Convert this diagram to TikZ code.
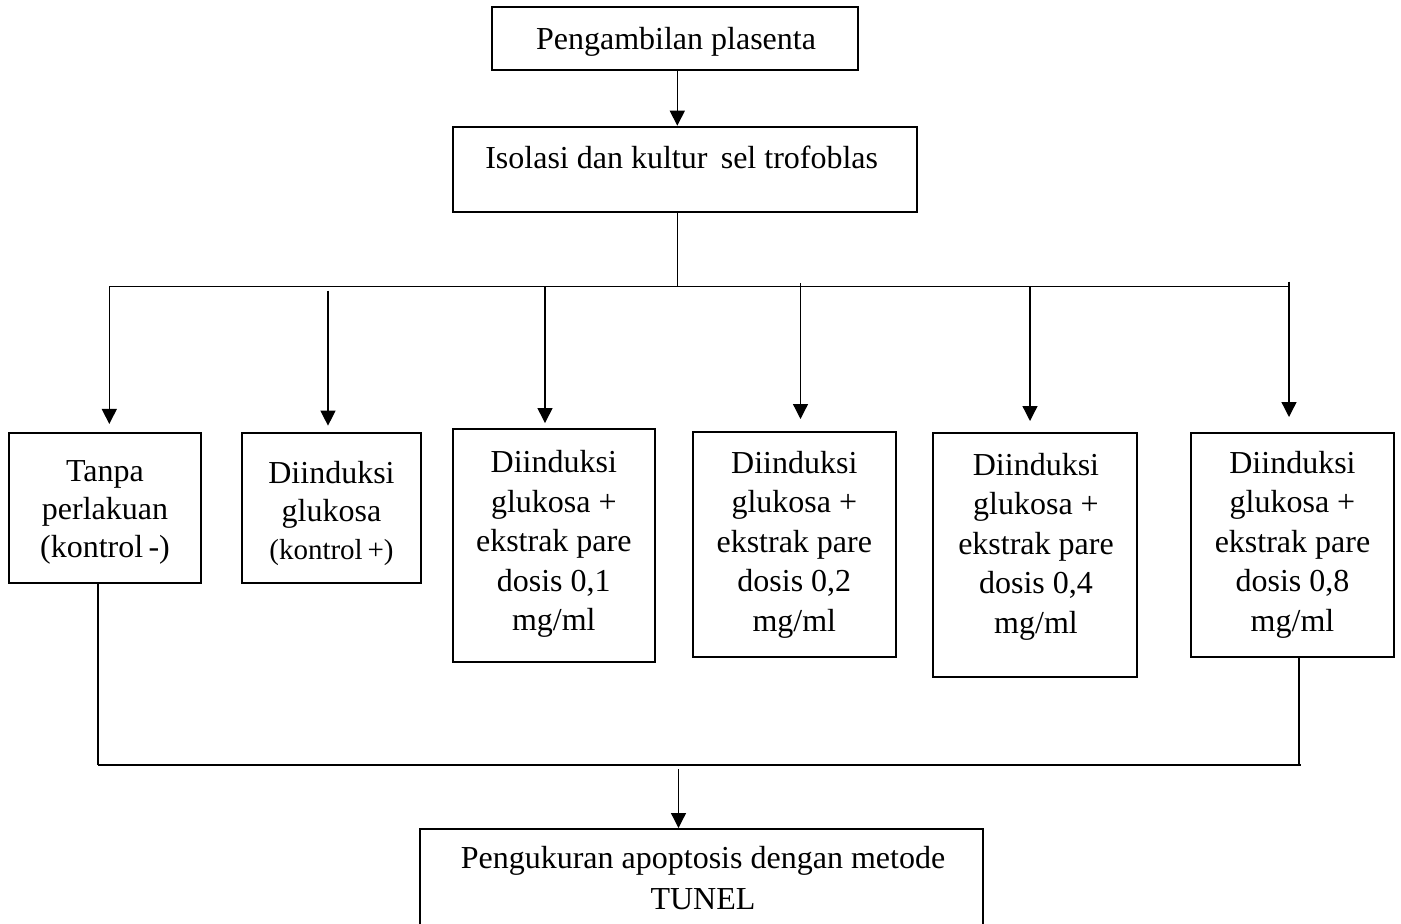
\documentclass[tikz,border=0pt]{standalone}
\usepackage{fontspec}
\setmainfont{Liberation Serif}
\usetikzlibrary{arrows.meta}
\newcommand{\mlines}[1]{\begin{tabular}[t]{@{}c@{}}#1\end{tabular}}
\begin{document}
\begin{tikzpicture}[x=1pt,y=-1pt,
  box/.style={draw, line width=2pt, rectangle, inner sep=0pt},
  txt/.style={inner sep=0pt, anchor=base, font=\fontsize{32}{39.5}\selectfont},
  txtb/.style={txt, font=\fontsize{32}{38}\selectfont},
  txtc/.style={txt, font=\fontsize{32}{41}\selectfont},
  ln/.style={line width=1.3pt},
  arr/.style={ln, -{Triangle[length=15pt,width=15pt]}}]
\useasboundingbox (0,0) rectangle (1401,924);
\clip (0,0) rectangle (1401,924);

% boxes
\node[box, minimum width=366.6pt, minimum height=62.7pt] (top) at (675,38.7) {};
\node[box, minimum width=464.3pt, minimum height=85.6pt] (iso) at (685.2,169.5) {};
\node[box, minimum width=192pt, minimum height=150.3pt] (b1) at (105,507.8) {};
\node[box, minimum width=179pt, minimum height=150.3pt] (b2) at (331.5,507.8) {};
\node[box, minimum width=202.3pt, minimum height=232.7pt] (b3) at (553.8,545.7) {};
\node[box, minimum width=203.3pt, minimum height=224.4pt] (b4) at (794.3,544.5) {};
\node[box, minimum width=204pt, minimum height=244pt] (b5) at (1034.7,554.7) {};
\node[box, minimum width=203.6pt, minimum height=224pt] (b6) at (1292.5,544.7) {};
\node[box, minimum width=563pt, minimum height=131pt] (bot) at (701.5,894.5) {};

% texts
\node[txt] (ttop) at (676,49.3) {Pengambilan plasenta};
\node[txt] (tiso) at (681.7,168.3) {Isolasi dan kultur\, sel trofoblas};
\node[txtb] (t1) at (105,481) {\mlines{Tanpa\\perlakuan\\(kontrol\,-)}};
\node[txtb] (t2) at (331.5,483) {\mlines{Diinduksi\\glukosa\\{\fontsize{29}{38}\selectfont(kontrol\,+)}}};
\node[txt] (t3) at (553.8,472.7) {\mlines{Diinduksi\\glukosa +\\ekstrak pare\\dosis 0,1\\mg/ml}};
\node[txt] (t4) at (794.3,473) {\mlines{Diinduksi\\glukosa +\\ekstrak pare\\dosis 0,2\\mg/ml}};
\node[txt] (t5) at (1036,475) {\mlines{Diinduksi\\glukosa +\\ekstrak pare\\dosis 0,4\\mg/ml}};
\node[txt] (t6) at (1292.5,473) {\mlines{Diinduksi\\glukosa +\\ekstrak pare\\dosis 0,8\\mg/ml}};
\node[txtc] (tbot) at (703,868) {\mlines{Pengukuran apoptosis dengan metode\\TUNEL}};

% top connectors
\draw[arr] ([xshift=2.3pt]top.south) -- ([xshift=2.3pt]top.south |- iso.north);
\coordinate (busL) at (109.3,286.7);
\coordinate (busR) at (1289,286.7);
\draw[ln] ([xshift=-8pt]iso.south) -- ([xshift=-8pt]iso.south |- busL);
\draw[ln] (busL) -- (busR);

\coordinate (a2) at (328,290.7);
\coordinate (a3) at (545,286.7);
\coordinate (a4) at (800.5,283.3);
\coordinate (a5) at (1030,286.7);
\coordinate (a6) at (1289,281.7);
\draw[arr, shorten >=7.7pt] (busL) -- (busL |- b1.north);
\draw[arr, shorten >=6pt] (a2) -- (a2 |- b2.north);
\draw[arr, shorten >=5.3pt] (a3) -- (a3 |- b3.north);
\draw[arr, shorten >=12.3pt] (a4) -- (a4 |- b4.north);
\draw[arr, shorten >=10.7pt] (a5) -- (a5 |- b5.north);
\draw[arr, shorten >=14.7pt] (a6) -- (a6 |- b6.north);

% bottom connectors
\coordinate (jL) at (98,765);
\coordinate (jR) at (1301,765);
\draw[ln] ([xshift=-7pt]b1.south) -- ([xshift=-7pt]b1.south |- jL);
\draw[ln] ([xshift=6.5pt]b6.south) -- ([xshift=6.5pt]b6.south |- jL);
\draw[ln] (jL) -- (jR);
\coordinate (a7) at (678.5,769);
\draw[arr] (a7) -- (a7 |- bot.north);
\end{tikzpicture}
\end{document}
